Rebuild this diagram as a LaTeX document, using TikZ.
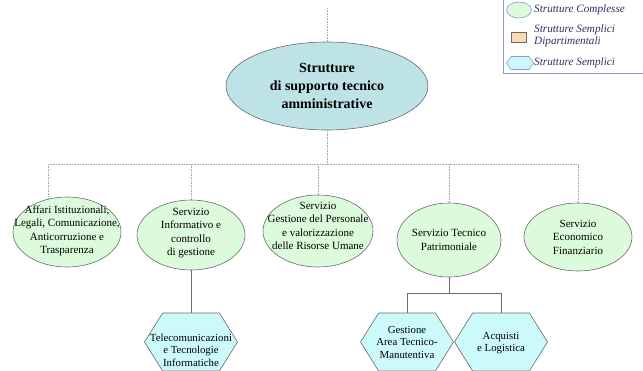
\documentclass[tikz,border=0pt]{standalone}
\usepackage{fontspec}
\setmainfont{Liberation Serif}
\usetikzlibrary{shapes.geometric,shapes.symbols}

\definecolor{mainfill}{HTML}{BEE3E6}
\definecolor{cxfill}{HTML}{DCFADC}
\definecolor{hexfill}{HTML}{CCFAFA}
\definecolor{dipfill}{HTML}{FADCB4}
\definecolor{edge}{HTML}{6A6A6A}
\definecolor{legedge}{HTML}{8C9AD6}
\definecolor{legtext}{HTML}{2E2E66}

\tikzset{
  mainell/.style={ellipse, draw=edge, line width=0.6pt, fill=mainfill,
    minimum width=202pt, minimum height=88pt, inner sep=0pt},
  cxell/.style={ellipse, draw=edge, line width=0.6pt, fill=cxfill,
    minimum width=#1, minimum height=70pt, inner sep=0pt},
  hexbox/.style={signal, signal to=east and west, signal pointer angle=116,
    draw=edge, line width=0.6pt, fill=hexfill,
    minimum width=93pt, minimum height=58pt, inner sep=0pt},
  lbl/.style={align=center, inner sep=0pt,
    font=\fontsize{11}{13.5}\selectfont},
  hexlbl/.style={align=center, inner sep=0pt,
    font=\fontsize{10.8}{12.5}\selectfont},
  bus/.style={draw=gray!70, densely dotted, line width=0.6pt},
  link/.style={draw=edge, line width=0.6pt},
  legtxt/.style={anchor=west, align=left, inner sep=0pt, text=legtext,
    font=\fontsize{11.2}{12.5}\selectfont\itshape},
}

\begin{document}
\begin{tikzpicture}[x=1pt, y=-1pt]
\useasboundingbox (0,0) rectangle (643,370);

% legend
\node[draw=legedge, line width=0.6pt, minimum width=142pt, minimum height=74pt,
      inner sep=0pt] (legend) at (574,36) {};
\node[ellipse, draw=legedge, fill=cxfill, minimum width=25pt, minimum height=16pt,
      inner sep=0pt, line width=0.6pt] (lcx) at (519,10) {};
\node[legtxt] (lcxt) at (534,10) {Strutture Complesse};
\node[rectangle, draw=edge, fill=dipfill, minimum width=15pt, minimum height=10pt,
      inner sep=0pt, line width=0.6pt] (ldip) at (519,37) {};
\node[legtxt] (ldipt) at (534,36) {Strutture Semplici\\Dipartimentali};
\node[signal, signal to=east and west, signal pointer angle=110, draw=legedge,
      fill=hexfill, minimum width=27pt, minimum height=13pt, inner sep=0pt,
      line width=0.6pt] (lhex) at (520,63) {};
\node[legtxt] (lhext) at (534,63) {Strutture Semplici};

% top level
\coordinate (topend) at (327,8);
\node[mainell] (main) at (327,86) {};
\node[align=center, inner sep=0pt, font=\fontsize{14}{18}\selectfont\bfseries]
  (maint) at (327,86) {Strutture\\di supporto tecnico\\amministrative};

% second level
\node[cxell=108pt] (aff) at (67,232) {};
\node[lbl] (afft) at (67,231) {Affari Istituzionali,\\Legali, Comunicazione,\\Anticorruzione e\\Trasparenza};
\node[cxell=108pt] (inf) at (191,235) {};
\node[lbl] (inft) at (191,233) {Servizio\\Informativo e\\controllo\\di gestione};
\node[cxell=110pt, minimum height=72pt] (per) at (318,231) {};
\node[lbl] (pert) at (318,226) {Servizio\\Gestione del Personale\\e valorizzazione\\delle Risorse Umane};
\node[cxell=104pt, minimum height=74pt] (tec) at (449,240) {};
\node[lbl] (tect) at (449,240) {Servizio Tecnico\\Patrimoniale};
\node[cxell=108pt, minimum height=68pt] (eco) at (578,237) {};
\node[lbl] (ecot) at (578,237) {Servizio\\Economico\\Finanziario};

% third level
\node[hexbox] (tel) at (191,342) {};
\node[hexlbl] (telt) at (191,350) {Telecomunicazioni\\e Tecnologie\\Informatiche};
\node[hexbox] (gam) at (407,342) {};
\node[hexlbl] (gamt) at (407,342) {Gestione\\Area Tecnico-\\Manutentiva};
\node[hexbox] (acq) at (501,342) {};
\node[hexlbl] (acqt) at (501,343) {Acquisti\\e Logistica};

% connectors
\coordinate (busy) at (0,164);
\coordinate (forky) at (0,293);
\draw[bus] (topend) -- (main.north);
\draw[bus] (main.south) -- (main.south |- busy);
\draw[bus] (aff.120 |- busy) -- (eco.north |- busy);
\draw[bus] (aff.120 |- busy) -- (aff.120);
\draw[bus] (inf.north |- busy) -- (inf.north);
\draw[bus] (per.north |- busy) -- (per.north);
\draw[bus] (tec.north |- busy) -- (tec.north);
\draw[bus] (eco.north |- busy) -- (eco.north);

\draw[link] (inf.south) -- (tel.north);
\draw[link] (tec.south) -- (tec.south |- forky);
\draw[link] (gam.north) |- (acq.north |- forky) -- (acq.north);
\end{tikzpicture}
\end{document}
